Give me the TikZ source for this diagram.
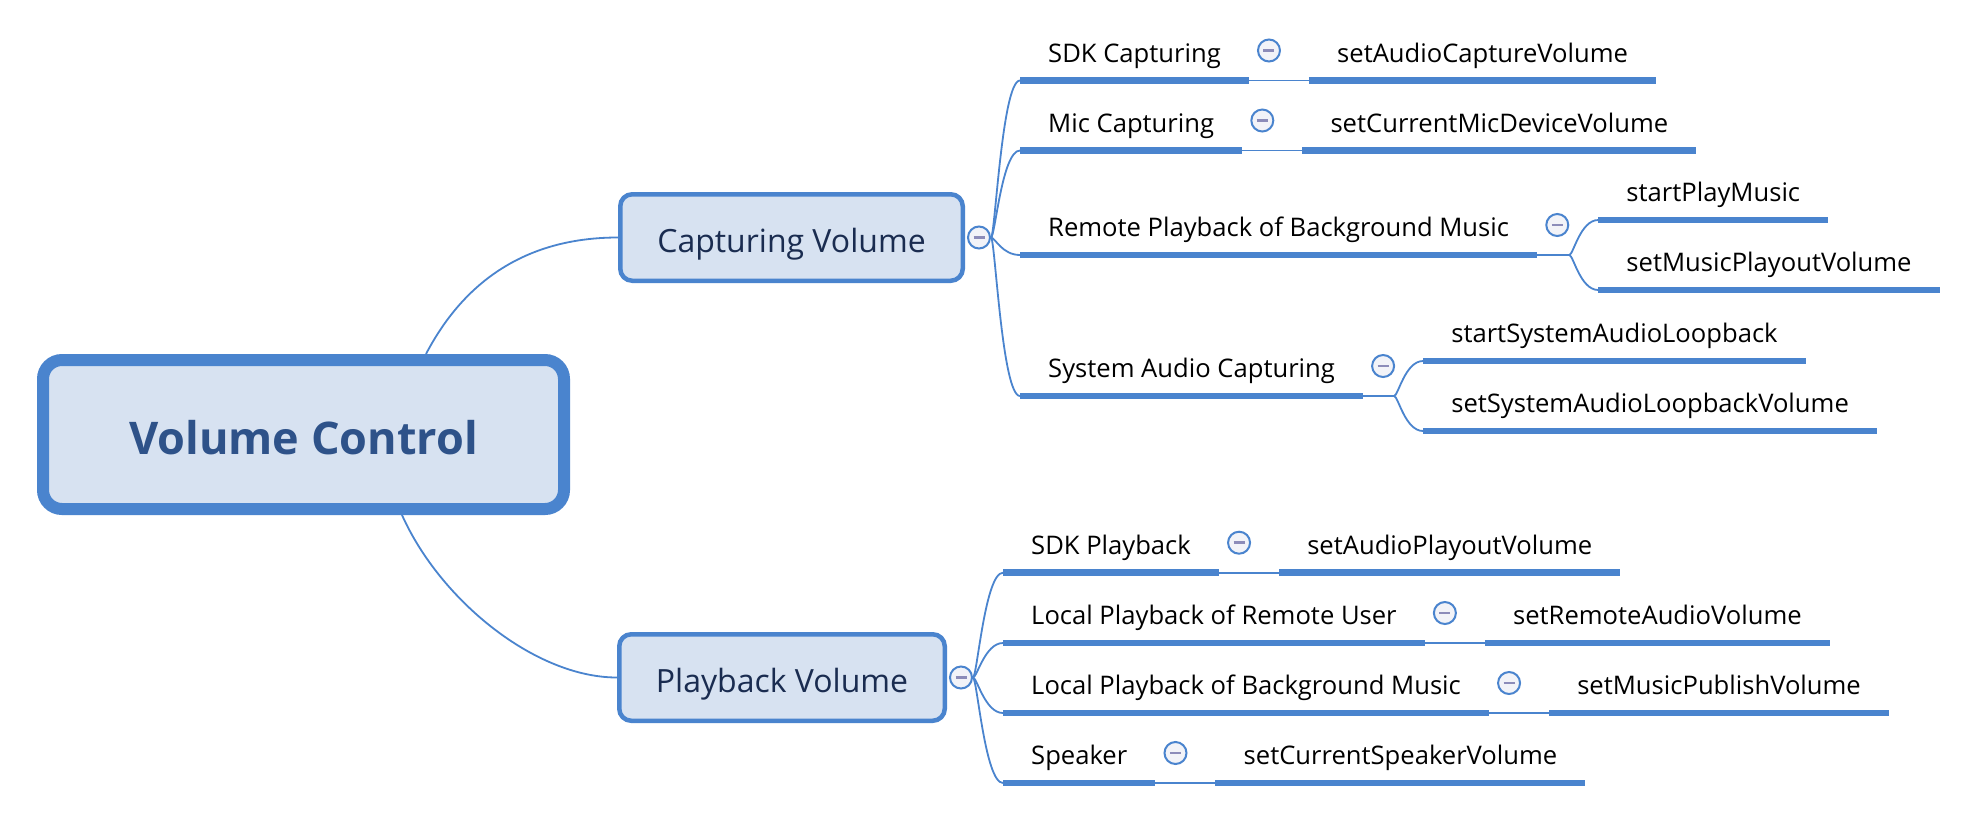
\documentclass[tikz,border=0pt]{standalone}
\usepackage{fontspec}
\setmainfont{Open Sans}
\usetikzlibrary{positioning, calc}
\definecolor{MapBlue}{RGB}{74, 132, 206}
\definecolor{BoxFill}{RGB}{215, 226, 241}
\definecolor{RootText}{RGB}{46, 82, 137}
\definecolor{TopicText}{RGB}{26, 44, 80}
\definecolor{FoldFill}{RGB}{242, 243, 248}
\definecolor{FoldMinus}{RGB}{140, 140, 185}

\begin{document}
\begin{tikzpicture}[x=1pt, y=-1pt,
  rootbox/.style={draw=MapBlue, fill=BoxFill, line width=12pt, rounded corners=19pt, minimum width=521pt, minimum height=149pt, text=RootText, font=\fontsize{45}{50}\selectfont\bfseries, text height=39pt, text depth=0pt},
  topic/.style={draw=MapBlue, fill=BoxFill, line width=4.5pt, rounded corners=12pt, minimum height=86.5pt, text=TopicText, font=\fontsize{32}{36}\selectfont, text height=29pt, text depth=0pt},
  leaf/.style={anchor=south west, inner xsep=28pt, inner ysep=0pt, text height=22pt, text depth=18pt, font=\fontsize{25.6}{30}\selectfont},
  uline/.style={MapBlue, line width=6.5pt},
  link/.style={MapBlue, line width=1.8pt},
  fold/.style={circle, draw=MapBlue, fill=FoldFill, line width=2pt, minimum size=22pt, inner sep=0pt,
    path picture={\draw[FoldMinus, line width=2.5pt] ([xshift=-5.5pt]path picture bounding box.center) -- ([xshift=5.5pt]path picture bounding box.center);}},
]
\useasboundingbox[fill=white] (0,0) rectangle (1978,831);

% main topic and the two branches
\node[rootbox] (root) at (303.5,434.5) {Volume Control};
\node[topic, minimum width=342.5pt] (capvol) at (791.5,237.5) {Capturing Volume};
\node[topic, minimum width=325.5pt] (playvol) at (782,677.5) {Playback Volume};
\node[fold, right=2pt of capvol] (capvol-f) {};
\node[fold, right=2pt of playvol] (playvol-f) {};
\draw[link] ([xshift=122.5pt]root.north) .. controls +(44,-84) and +(-79,0) .. (capvol.west);
\draw[link] ([xshift=98.5pt]root.south) .. controls +(38,85) and +(-82,0) .. (playvol.west);

% capturing volume
\node[leaf] (sdkcap) at (1020,80.5) {SDK Capturing};
\node[leaf] (miccap) at (1020,150.5) {Mic Capturing};
\node[leaf] (remotebgm) at (1020,255) {Remote Playback of Background Music};
\node[leaf] (syscap) at (1020,396) {System Audio Capturing};
\node[leaf, right=60pt of sdkcap] (capvolapi) {setAudioCaptureVolume};
\node[leaf, right=60pt of miccap] (micvolapi) {setCurrentMicDeviceVolume};
\coordinate (remotebgm-b) at ($(remotebgm.south east)+(32,0)$);
\node[leaf] (startbgm) at ($(remotebgm.south east)+(61,-35)$) {startPlayMusic};
\node[leaf] (bgmplayvol) at ($(remotebgm.south east)+(61,35)$) {setMusicPlayoutVolume};
\coordinate (syscap-b) at ($(syscap.south east)+(31,0)$);
\node[leaf] (startloop) at ($(syscap.south east)+(60,-35)$) {startSystemAudioLoopback};
\node[leaf] (loopvol) at ($(syscap.south east)+(60,35)$) {setSystemAudioLoopbackVolume};
\foreach \n in {sdkcap, miccap, remotebgm, syscap}
  \node[fold] (\n-f) at ($(\n.south east)+(20,-30)$) {};
\foreach \n in {sdkcap, miccap, remotebgm, syscap, capvolapi, micvolapi, startbgm, bgmplayvol, startloop, loopvol}
  \draw[uline] (\n.south west) -- (\n.south east);
\foreach \n in {sdkcap, miccap, remotebgm, syscap}
  \draw[link] (capvol-f.east) .. controls +(4,0) and +(-18,0) .. (\n.south west);
\draw[link] (sdkcap.south east) -- (capvolapi.south west);
\draw[link] (miccap.south east) -- (micvolapi.south west);
\draw[link] (remotebgm.south east) -- (remotebgm-b);
\draw[link] (syscap.south east) -- (syscap-b);
\foreach \n in {startbgm, bgmplayvol}
  \draw[link] (remotebgm-b) .. controls +(4,0) and +(-18,0) .. (\n.south west);
\foreach \n in {startloop, loopvol}
  \draw[link] (syscap-b) .. controls +(4,0) and +(-18,0) .. (\n.south west);

% playback volume
\node[leaf] (sdkplay) at (1003,572.7) {SDK Playback};
\node[leaf] (remoteuser) at (1003,643) {Local Playback of Remote User};
\node[leaf] (localbgm) at (1003,713) {Local Playback of Background Music};
\node[leaf] (speaker) at (1003,783) {Speaker};
\node[leaf, right=60pt of sdkplay] (playvolapi) {setAudioPlayoutVolume};
\node[leaf, right=60pt of remoteuser] (remotevolapi) {setRemoteAudioVolume};
\node[leaf, right=60pt of localbgm] (publishvolapi) {setMusicPublishVolume};
\node[leaf, right=60pt of speaker] (speakervolapi) {setCurrentSpeakerVolume};
\foreach \n/\api in {sdkplay/playvolapi, remoteuser/remotevolapi, localbgm/publishvolapi, speaker/speakervolapi} {
  \node[fold] (\n-f) at ($(\n.south east)+(20,-30)$) {};
  \draw[uline] (\n.south west) -- (\n.south east);
  \draw[uline] (\api.south west) -- (\api.south east);
  \draw[link] (\n.south east) -- (\api.south west);
  \draw[link] (playvol-f.east) .. controls +(4,0) and +(-18,0) .. (\n.south west);
}
\end{tikzpicture}
\end{document}
